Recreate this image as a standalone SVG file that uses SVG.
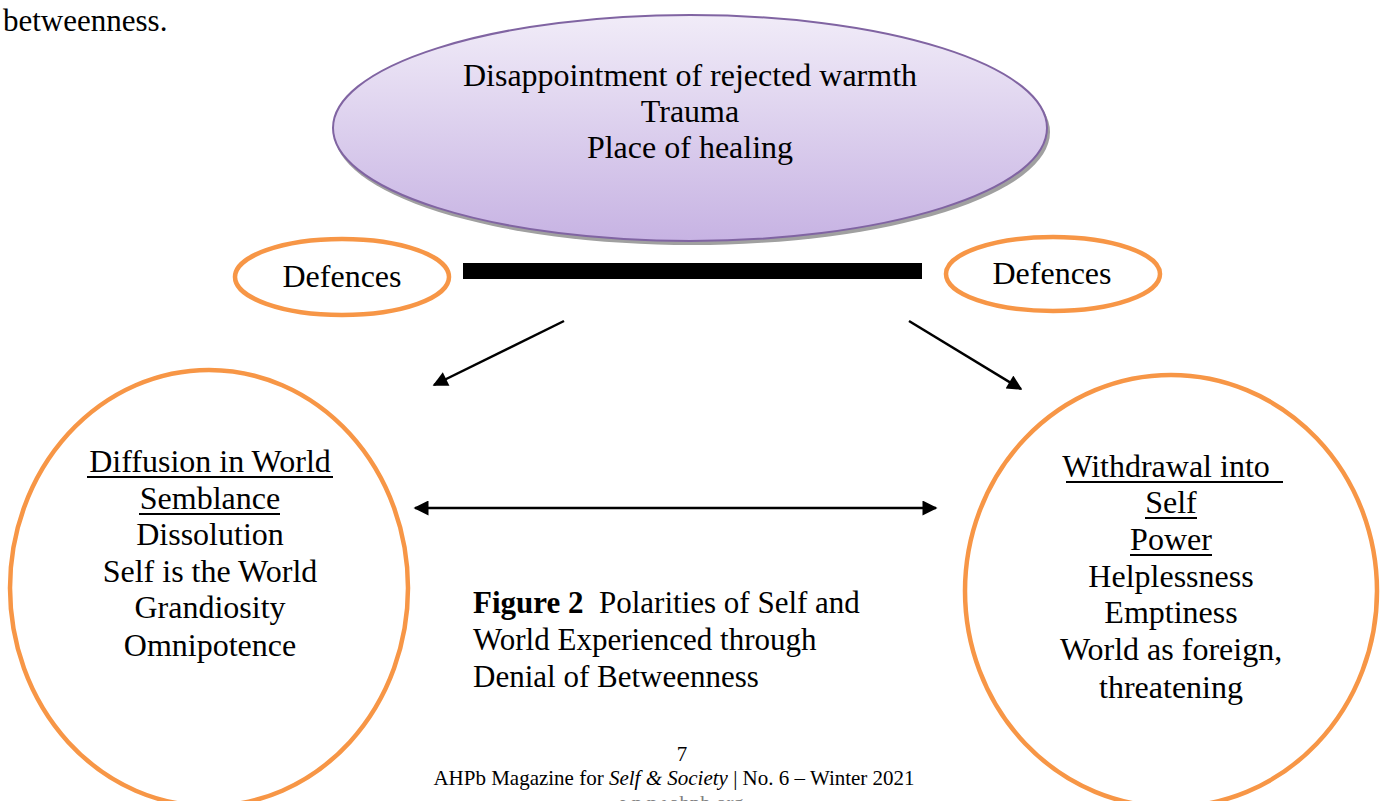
<svg xmlns="http://www.w3.org/2000/svg" width="1384" height="801" viewBox="0 0 1384 801">
<style>
text{font-family:"Liberation Serif","Times New Roman",serif;fill:#000;}
.t32{font-size:32px;text-anchor:middle;}
.orange{fill:none;stroke:#F79646;stroke-width:4.5;}
.conn{stroke:#000;stroke-width:2.5;fill:none;}
.ul{stroke:#000;stroke-width:2;}
</style>
<defs>
<linearGradient id="pg" x1="0" y1="0" x2="0" y2="1">
<stop offset="0" stop-color="#F1ECF8"/>
<stop offset="1" stop-color="#C7B3E3"/>
</linearGradient>
<marker id="ah" viewBox="0 0 10 10" refX="9" refY="5" markerWidth="6.5" markerHeight="6" markerUnits="strokeWidth" orient="auto-start-reverse">
<path d="M0,0 L10,5 L0,10 Z" fill="#000"/>
</marker>
</defs>
<rect width="1384" height="801" fill="#fff"/>
<text x="3" y="31" style="font-size:31px">betweenness.</text>

<g id="top">
<ellipse cx="692" cy="132" rx="358" ry="113" fill="#a0a0a0"/>
<ellipse cx="690" cy="128" rx="357" ry="113" fill="url(#pg)" stroke="#8064A2" stroke-width="2"/>
<text class="t32" x="690" y="86">Disappointment of rejected warmth</text>
<text class="t32" x="690" y="122">Trauma</text>
<text class="t32" x="690" y="158">Place of healing</text>
</g>

<g id="bar">
<rect x="463" y="263" width="459" height="16" fill="#000"/>
</g>

<g id="defL">
<ellipse class="orange" cx="342" cy="277" rx="107" ry="38"/>
<text class="t32" x="342" y="287">Defences</text>
</g>
<g id="defR">
<ellipse class="orange" cx="1053" cy="274" rx="107" ry="37"/>
<text class="t32" x="1052" y="284">Defences</text>
</g>

<g id="left">
<ellipse class="orange" cx="209" cy="588" rx="199" ry="218"/>
<text class="t32" x="210" y="472">Diffusion in World</text>
<line class="ul" x1="87" y1="477" x2="333" y2="477"/>
<text class="t32" x="210" y="509">Semblance</text>
<line class="ul" x1="139" y1="514" x2="280" y2="514"/>
<text class="t32" x="210" y="545">Dissolution</text>
<text class="t32" x="210" y="582">Self is the World</text>
<text class="t32" x="210" y="618">Grandiosity</text>
<text class="t32" x="210" y="656">Omnipotence</text>
</g>

<g id="right">
<ellipse class="orange" cx="1171" cy="591" rx="206" ry="216"/>
<text class="t32" x="1166" y="477">Withdrawal into</text>
<line class="ul" x1="1066" y1="482" x2="1283" y2="482"/>
<text class="t32" x="1171" y="513">Self</text>
<line class="ul" x1="1145" y1="518" x2="1197" y2="518"/>
<text class="t32" x="1171" y="550">Power</text>
<line class="ul" x1="1130" y1="555" x2="1212" y2="555"/>
<text class="t32" x="1171" y="587">Helplessness</text>
<text class="t32" x="1171" y="623">Emptiness</text>
<text class="t32" x="1171" y="660">World as foreign,</text>
<text class="t32" x="1171" y="698">threatening</text>
</g>

<g id="connectors">
<line class="conn" x1="564" y1="321" x2="434" y2="385" marker-end="url(#ah)"/>
<line class="conn" x1="909" y1="321" x2="1021" y2="389" marker-end="url(#ah)"/>
<line class="conn" x1="415" y1="508" x2="936" y2="508" marker-start="url(#ah)" marker-end="url(#ah)"/>
</g>

<g id="caption">
<text x="473" y="613" style="font-size:31px" xml:space="preserve"><tspan font-weight="bold">Figure 2</tspan>  Polarities of Self and</text>
<text x="473" y="650" style="font-size:31px">World Experienced through</text>
<text x="473" y="687" style="font-size:31px">Denial of Betweenness</text>
</g>

<g id="footer">
<text x="682" y="761" style="font-size:21px;text-anchor:middle">7</text>
<text x="674" y="785" style="font-size:21px;text-anchor:middle">AHPb Magazine for <tspan font-style="italic">Self &amp; Society</tspan> | No. 6 – Winter 2021</text>
<text x="682" y="810" style="font-size:21px;text-anchor:middle;fill:#808080">www.ahpb.org</text>
</g>
</svg>
